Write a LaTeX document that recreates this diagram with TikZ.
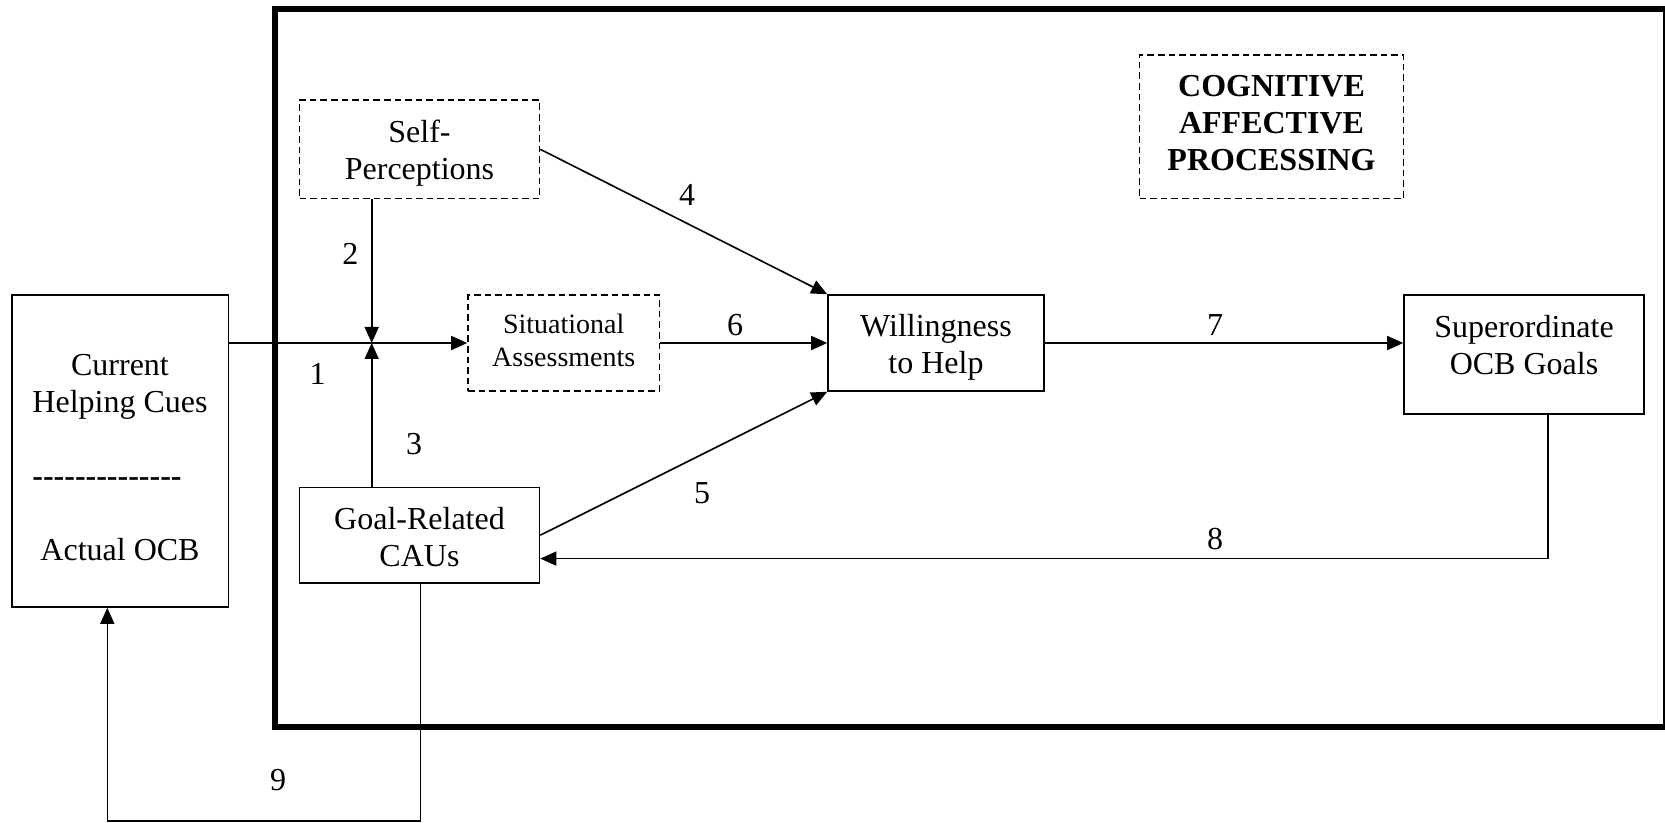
\documentclass[tikz,border=0pt]{standalone}
\usepackage{fontspec}
\setmainfont{Liberation Serif}
\newfontfamily\nolig{Liberation Serif}[Ligatures=TeXOff]
\usetikzlibrary{arrows.meta}
\begin{document}
\begin{tikzpicture}[x=0.5pt,y=-0.5pt,
  box/.style={draw,line width=0.8pt,inner sep=0pt},
  dbox/.style={box,dash pattern=on 3.3pt off 2pt},
  txt/.style={inner sep=0pt,align=center,font=\fontsize{16}{18.5}\selectfont},
  num/.style={inner sep=0pt,font=\fontsize{16}{18.5}\selectfont},
  conn/.style={line width=0.8pt,-{Triangle[length=8pt,width=7pt]}},
  frame/.style={line width=2.8pt}
]
\useasboundingbox (0,0) rectangle (1665,823);
% outer frame
\draw[frame] (275,9) rectangle (1666,727);
% boxes
\node[box,minimum width=108.3pt,minimum height=156pt] (cur) at (120,451) {};
\node[dbox,minimum width=120pt,minimum height=49.3pt] (self) at (419.5,149.3) {};
\node[dbox,minimum width=95.75pt,minimum height=48pt] (sit) at (563.75,343) {};
\node[box,minimum width=108pt,minimum height=48pt] (will) at (936,343) {};
\node[box,minimum width=120pt,minimum height=59.5pt] (sup) at (1524,354.5) {};
\node[box,minimum width=120pt,minimum height=47.8pt] (goal) at (419.5,535.2) {};
\node[dbox,minimum width=132pt,minimum height=71.8pt] (cog) at (1271.5,126.8) {};
% texts
\node[txt] (curT) at (120,457.4)
  {Current\\Helping Cues\\[18.5pt]{\nolig\bfseries --------------}\rule{13pt}{0pt}\\[18.5pt]Actual OCB};
\node[txt] (selfT) at (419.5,153) {Self-\\Perceptions};
\node[txt,font=\fontsize{14}{16.5}\selectfont] (sitT) at (563.75,340.3) {Situational\\Assessments};
\node[txt] (willT) at (936,347.8) {Willingness\\to Help};
\node[txt] (supT) at (1524,345.5) {Superordinate\\OCB Goals};
\node[txt] (goalT) at (419.5,537.3) {Goal-Related\\CAUs};
\node[txt,font=\bfseries\fontsize{16}{18.5}\selectfont] (cogT) at (1271.5,123.3) {COGNITIVE\\AFFECTIVE\\PROCESSING};
% connectors
\coordinate (j) at (371.7,343);
\draw[conn] (cur.east |- j) -- (sit.west |- j);
\draw[conn] (self.south -| j) -- (j);
\draw[conn] (goal.north -| j) -- (j);
\draw[conn] (self.east) -- (will.north west);
\draw[conn] (sit.east) -- (will.west);
\draw[conn] (goal.east) -- (will.south west);
\draw[conn] (will.east) -- (will.east -| sup.west);
\coordinate (c8) at (1548,558.6);
\draw[conn] (sup.south -| c8) -- (c8) -- (c8 -| goal.east);
\coordinate (c9) at (420.5,821);
\coordinate (c9b) at (107.3,821);
\draw[conn] (goal.south -| c9) -- (c9) -- (c9b) -- (cur.south -| c9b);
% labels
\node[num] (l1) at (317.5,374) {1};
\node[num] (l2) at (350.4,253.8) {2};
\node[num] (l3) at (414,444) {3};
\node[num] (l4) at (687,195) {4};
\node[num] (l5) at (702,493) {5};
\node[num] (l6) at (735,325) {6};
\node[num] (l7) at (1215,325) {7};
\node[num] (l8) at (1215,539.5) {8};
\node[num] (l9) at (278,780.5) {9};
\end{tikzpicture}
\end{document}
